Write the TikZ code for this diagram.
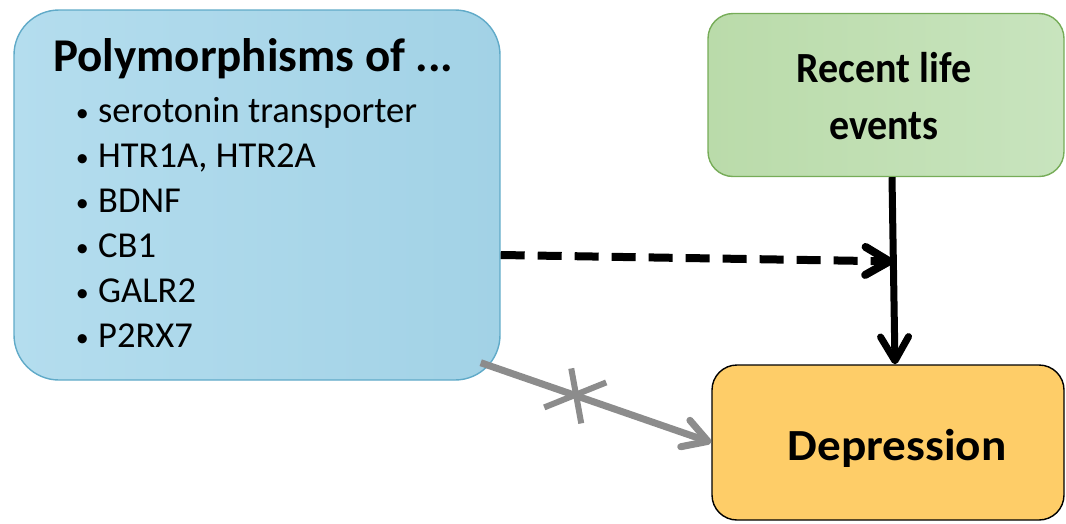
\documentclass[tikz,border=0pt]{standalone}
\usepackage{fontspec}
\setmainfont{Carlito}
\newfontfamily\lifefont[FakeStretch=0.93]{Carlito}
\newfontfamily\depfont[FakeStretch=1.06]{Carlito}
\usetikzlibrary{arrows.meta,calc}

\definecolor{polyfillL}{RGB}{180,221,238}
\definecolor{polyfillR}{RGB}{162,210,230}
\definecolor{polyline}{RGB}{96,170,200}
\definecolor{lifefillL}{RGB}{186,219,170}
\definecolor{lifefillR}{RGB}{200,228,190}
\definecolor{lifeline}{RGB}{118,172,88}
\definecolor{depfill}{RGB}{254,205,104}
\definecolor{nolink}{RGB}{140,140,140}

\begin{document}
\begin{tikzpicture}[x=1pt,y=1pt]
\tikzstyle{every node}+=[inner sep=0pt]
\tikzstyle{box}=[draw, rounded corners=25pt, line width=1.4pt]
\tikzstyle{barb}=[-{Straight Barb[round,length=24pt,width=28pt]}]
\useasboundingbox (0,0) rectangle (1066,-523);
% boxes
\node [box, rounded corners=45pt, draw=polyline, left color=polyfillL, right color=polyfillR,
  minimum width=486pt, minimum height=370pt] (poly) at (257,-195) {};
\node [box, draw=lifeline, left color=lifefillL, right color=lifefillR,
  minimum width=356pt, minimum height=163pt] (life) at (886,-95) {};
\node [box, draw=black, fill=depfill, minimum width=352pt, minimum height=155pt] (dep) at (888,-442.5) {};
\node [align=center, font=\lifefont\fontsize{43}{57}\selectfont\bfseries] (lifetext) at (884,-96) {Recent life\\events};
\node [anchor=base, font=\depfont\fontsize{44.5}{50}\selectfont\bfseries] (deptext) at (897,-460) {Depression};
% text of the blue box
\node [anchor=base west, font=\fontsize{47}{50}\selectfont\bfseries] (polytitle) at (53,-71) {Polymorphisms of ...};
\foreach \gene [count=\i] in {serotonin transporter, {HTR1A, HTR2A}, BDNF, CB1, GALR2, P2RX7} {
  \node [anchor=base west, font=\fontsize{36.5}{40}\selectfont] (gene\i) at (98,{-122-45*(\i-1)}) {\gene};
  \node [anchor=base east, font=\fontsize{26}{30}\selectfont] (dot\i) at ([shift={(-9pt,1pt)}]gene\i.base west) {•};
}
% connectors
\coordinate (lifeout) at ([xshift=6pt]life.south);
\coordinate (depin) at ([xshift=7pt]dep.north);
\coordinate (dashend) at ($(lifeout)!0.45!(depin)$);
\coordinate (polycut) at ([shift={(-20pt,18pt)}]poly.south east);
\draw [barb, line width=7pt] (lifeout) -- (depin);
\draw [barb, line width=8pt, dash pattern=on 24pt off 13pt] ([yshift=-60pt]poly.east) -- (dashend);
\draw [barb, line width=7pt, nolink] (polycut) -- (dep.west);
\coordinate (cut) at ($(polycut)!0.41!(dep.west)$);
\draw [line width=6pt, nolink] ([shift={(-4pt,27pt)}]cut) -- ([shift={(6pt,-28pt)}]cut);
\draw [line width=6pt, nolink] ([shift={(-31pt,-12pt)}]cut) -- ([shift={(31pt,13pt)}]cut);
\end{tikzpicture}
\end{document}
